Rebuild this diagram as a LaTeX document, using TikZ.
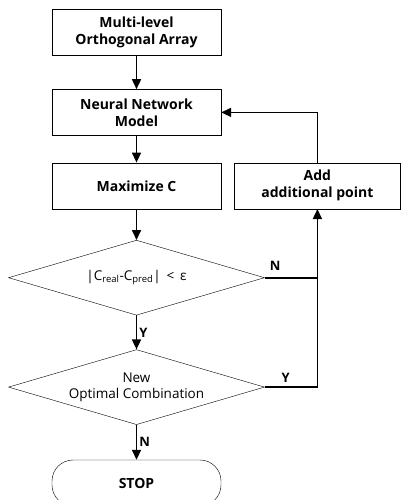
\documentclass[tikz,border=0pt]{standalone}
\usepackage{fontspec}
\setmainfont{Open Sans}
\usetikzlibrary{arrows.meta,positioning,shapes.geometric}

\begin{document}
\begin{tikzpicture}[
    x=1pt, y=1pt,
    node distance=31pt and 13pt,
    box/.style={draw, align=center, minimum height=46pt, minimum width=169pt, inner sep=2pt, font=\bfseries\fontsize{14}{17}\selectfont},
    decision/.style={draw, diamond, aspect=3.4, align=center, minimum width=256pt, minimum height=75pt, inner sep=0pt, font=\fontsize{13.5}{16}\selectfont},
    stopbox/.style={draw, rounded corners=21pt, minimum height=46pt, minimum width=169pt, font=\bfseries\fontsize{14}{17}\selectfont},
    lbl/.style={font=\bfseries\fontsize{13}{15}\selectfont, inner sep=2pt},
    arrow/.style={-{Triangle[length=10pt,width=9pt]}, line width=1.6pt}
  ]
    \useasboundingbox (0,0) rectangle (401,-500);
    \node[box] (oa) at (136.5,-32) {Multi-level\\Orthogonal Array};
    \node[box, below=34pt of oa] (nn) {Neural Network\\Model};
    \node[box, below=27pt of nn] (maxc) {Maximize C};
    \node[box, right=of maxc, minimum width=166pt] (add) {Add\\additional point};
    \node[decision, below=of maxc] (err) {|C\textsubscript{real}-C\textsubscript{pred}| \,<\, ε};
    \node[decision, below=34pt of err] (newc) {New\\Optimal Combination};
    \node[stopbox, below=35pt of newc] (stop) {STOP};

    \draw[arrow] (oa) -- (nn);
    \draw[arrow] (nn) -- (maxc);
    \draw[arrow] (maxc) -- (err);
    \draw[arrow] (err) -- node[lbl, right] {Y} (newc);
    \draw[arrow] (newc) -- node[lbl, right] {N} (stop);
    \draw[line width=1.6pt] (err.east) -- node[lbl, above, pos=0.2, yshift=4pt] {N} (err.east -| add.south);
    \draw[arrow] (newc.east) -| node[lbl, above, pos=0.2, yshift=2pt] {Y} (add.south);
    \draw[arrow] (add.north) |- (nn.east);
  \end{tikzpicture}
\end{document}
